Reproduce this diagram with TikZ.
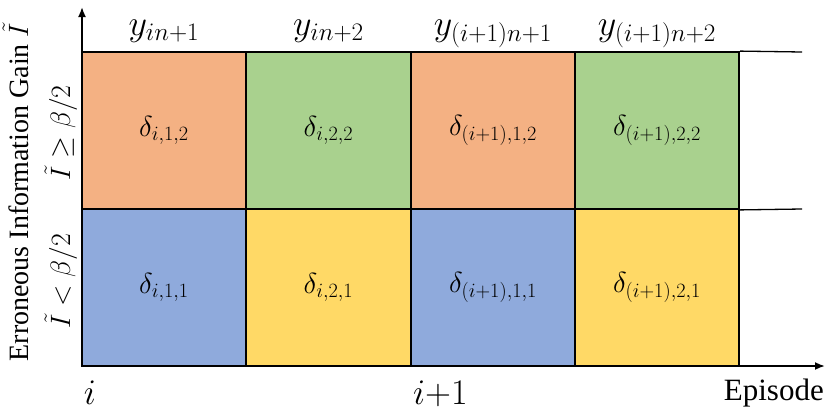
\RequirePackage{fix-cm}
\documentclass[tikz,border=0pt]{standalone}
\usepackage[no-math]{fontspec}
\setmainfont{Liberation Serif}
\usetikzlibrary{arrows.meta}
\definecolor{corange}{HTML}{F4B183}
\definecolor{cgreen}{HTML}{A9D18E}
\definecolor{cblue}{HTML}{8FAADC}
\definecolor{cyellow}{HTML}{FFD966}
\begin{document}
\begin{tikzpicture}[x=1pt,y=-1pt,
  cell/.style={draw=black,line width=1.8pt,minimum width=164.5pt,minimum height=157pt,inner sep=0pt,font=\fontsize{29}{32}\selectfont},
  ylab/.style={inner sep=0pt,font=\fontsize{36}{40}\selectfont},
  txt/.style={inner sep=0pt,font=\fontsize{28}{32}\selectfont},
  axis/.style={line width=1.8pt,-{Latex[length=10pt,width=8pt]}},
  thin/.style={line width=1.3pt}]
\useasboundingbox (0,0) rectangle (830,410);
% cells
\node[cell,fill=corange] (c11) at (164,130.5) {$\delta_{i,1,2}$};
\node[cell,fill=cgreen]  (c12) at (328.5,130.5) {$\delta_{i,2,2}$};
\node[cell,fill=corange] (c13) at (493,130.5) {$\delta_{(i+1),1,2}$};
\node[cell,fill=cgreen]  (c14) at (657,130.5) {$\delta_{(i+1),2,2}$};
\node[cell,fill=cblue]   (c21) at (164,287.5) {$\delta_{i,1,1}$};
\node[cell,fill=cyellow] (c22) at (328.5,287.5) {$\delta_{i,2,1}$};
\node[cell,fill=cblue]   (c23) at (493,287.5) {$\delta_{(i+1),1,1}$};
\node[cell,fill=cyellow] (c24) at (657,287.5) {$\delta_{(i+1),2,1}$};
% extension lines
\coordinate (tr) at (802,52);
\coordinate (mr) at (802,209);
\draw[thin] (c14.north east) -- (tr);
\draw[thin] (c14.south east) -- (mr);
% axes
\coordinate (O) at (82,366);
\coordinate (ytip) at (82,7);
\coordinate (xtip) at (825,366);
\draw[axis] (O) -- (ytip);
\draw[axis] (O) -- (xtip);
% column labels
\node[ylab,anchor=base] (l1) at (164,35) {$y_{in+1}$};
\node[ylab,anchor=base] (l2) at (328.5,35) {$y_{in+2}$};
\node[ylab,anchor=base] (l3) at (493,35) {$y_{(i+1)n+1}$};
\node[ylab,anchor=base] (l4) at (657,35) {$y_{(i+1)n+2}$};
% x labels
\node[ylab,anchor=base] (xi) at (90,404) {$i$};
\node[ylab,anchor=base west] (xi1) at (413,404) {$i{+}1$};
\node[txt,anchor=base east,font=\fontsize{31}{34}\selectfont] (ep) at (824,400) {Episode};
% y labels
\node[txt,rotate=90,anchor=base] (yl) at (28,192) {Erroneous Information Gain $\tilde{I}$};
\node[txt,rotate=90,anchor=base] (hi) at (70,133) {$\tilde{I}\geq\beta/2$};
\node[txt,rotate=90,anchor=base] (lo) at (70,281) {$\tilde{I}<\beta/2$};
\end{tikzpicture}
\end{document}
